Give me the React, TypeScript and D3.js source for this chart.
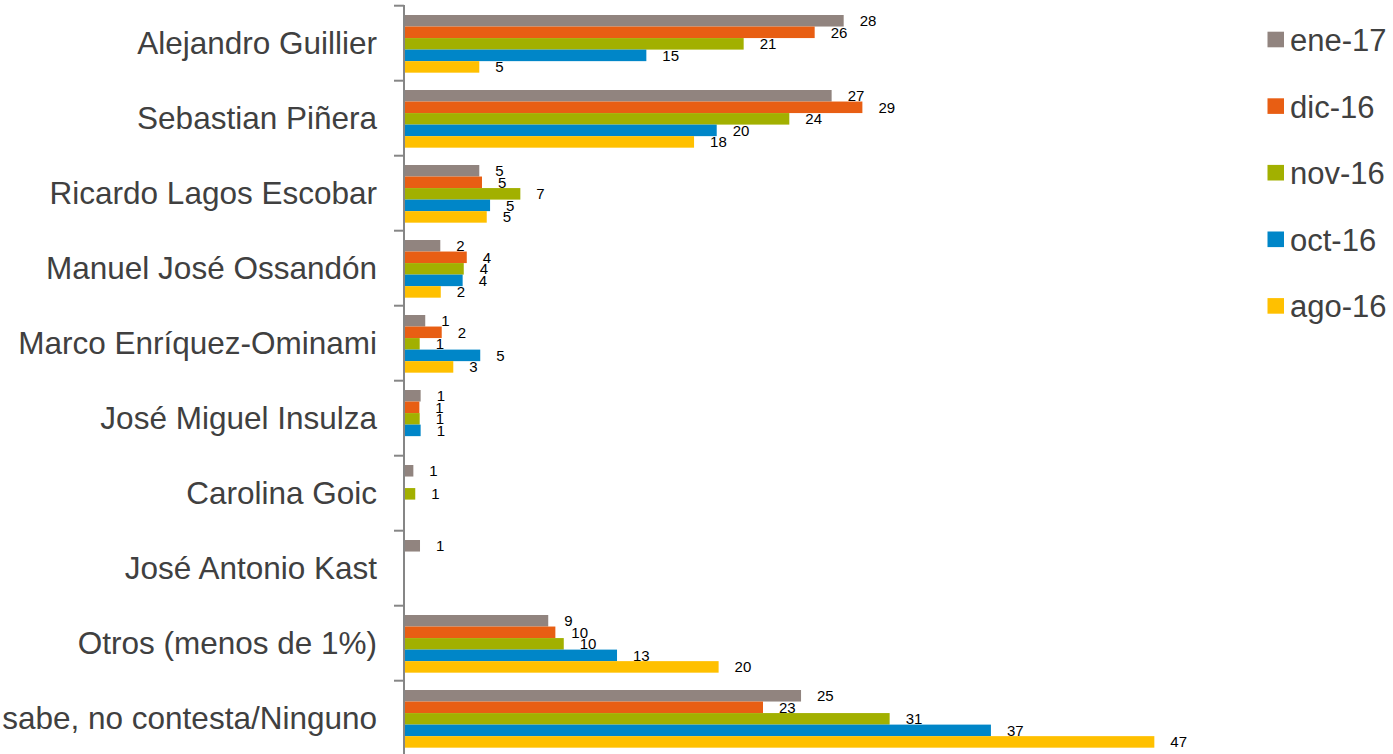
import React from "react";
import * as d3 from "d3";

const categories = [
  "Alejandro Guillier",
  "Sebastian Piñera",
  "Ricardo Lagos Escobar",
  "Manuel José Ossandón",
  "Marco Enríquez-Ominami",
  "José Miguel Insulza",
  "Carolina Goic",
  "José Antonio Kast",
  "Otros (menos de 1%)",
  "No sabe, no contesta/Ninguno",
];

const seriesNames = ["ene-17", "dic-16", "nov-16", "oct-16", "ago-16"];
const seriesColors = ["#91847F", "#E85E13", "#A2B000", "#0086C8", "#FFC000"];

const ene17: (number | null)[] = [27.74, 26.98, 4.75, 2.29, 1.34, 1.05, 0.59, 1.01, 9.1, 25.05];
const dic16: (number | null)[] = [25.91, 28.92, 4.92, 3.96, 2.38, 0.97, null, null, 9.55, 22.65];
const nov16: (number | null)[] = [21.43, 24.31, 7.34, 3.77, 0.99, 0.99, 0.71, null, 10.08, 30.64];
const oct16: (number | null)[] = [15.29, 19.73, 5.43, 3.7, 4.81, 1.05, null, null, 13.44, 37.03];
const ago16: (number | null)[] = [4.75, 18.3, 5.22, 2.32, 3.11, null, null, null, 19.85, 47.34];

const seriesValues = [ene17, dic16, nov16, oct16, ago16];

const W = 1393;
const H = 754;
const axisX = 404;

export default function App() {
  const y = d3.scaleBand<string>().domain(categories).range([5.7, 755.7]).padding(0);
  const bw = y.bandwidth();
  const inner = d3
    .scaleBand<string>()
    .domain(seriesNames)
    .range([bw * 0.124, bw * 0.893])
    .padding(0);
  const x = d3.scaleLinear().domain([0, 50]).range([axisX, axisX + 50 * 15.85]);
  const fmt = d3.format(".0f");
  const font = "'Liberation Sans', Arial, sans-serif";

  const ticks = [...categories.map((c) => y(c) as number), 755.7];

  return (
    <svg
      width={W}
      height={H}
      style={{ position: "absolute", left: 0, top: 0, background: "#fff" }}
      fontFamily={font}
    >
      {/* bars */}
      {categories.map((c, ci) =>
        seriesNames.map((s, si) => {
          const v = seriesValues[si][ci];
          if (v == null) return null;
          const by = (y(c) as number) + (inner(s) as number);
          return (
            <g key={c + s}>
              <rect
                x={x(0)}
                y={by}
                width={x(v) - x(0)}
                height={inner.bandwidth()}
                fill={seriesColors[si]}
              />
              <text
                x={x(v) + 16}
                y={by + inner.bandwidth() / 2}
                dy="0.36em"
                fontSize={15}
                fill="#000"
              >
                {fmt(v)}
              </text>
            </g>
          );
        })
      )}

      {/* axis */}
      <line x1={axisX} x2={axisX} y1={5} y2={H} stroke="#868686" strokeWidth={2} />
      {ticks.map((t, i) => (
        <line key={i} x1={394} x2={axisX} y1={t} y2={t} stroke="#868686" strokeWidth={2} />
      ))}

      {/* category labels */}
      {categories.map((c) => (
        <text
          key={c}
          x={377}
          y={(y(c) as number) + bw / 2}
          dy="0.35em"
          textAnchor="end"
          fontSize={31.5}
          fill="#404040"
        >
          {c}
        </text>
      ))}

      {/* legend */}
      {seriesNames.map((s, i) => {
        const cy = 39.5 + i * 66.6;
        return (
          <g key={s}>
            <rect x={1267.5} y={cy - 7.8} width={16.5} height={15.6} fill={seriesColors[i]} />
            <text x={1290} y={cy} dy="0.37em" fontSize={31} fill="#404040">
              {s}
            </text>
          </g>
        );
      })}
    </svg>
  );
}
